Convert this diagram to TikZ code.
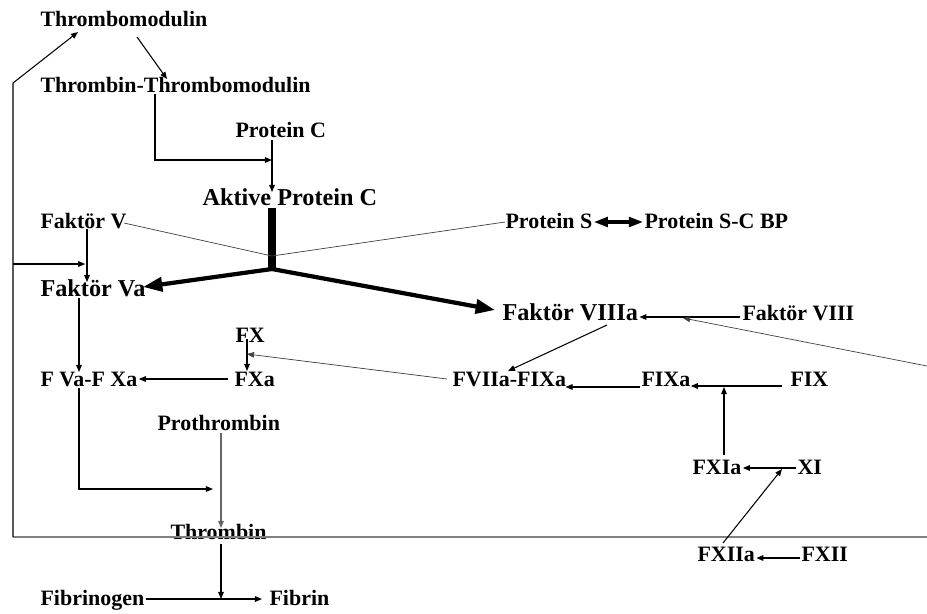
\documentclass[tikz,border=0pt]{standalone}
\usepackage{fontspec}
\setmainfont{Liberation Serif}
\usetikzlibrary{arrows.meta}

\begin{document}
\begin{tikzpicture}[x=0.02cm, y=-0.02cm, >={Triangle[length=4pt,width=3.2pt]}, line width=0.6pt,
    lbl/.style={font=\fontsize{12.5}{15}\selectfont\bfseries, inner sep=0pt, anchor=base west},
    big/.style={font=\fontsize{13.8}{16}\selectfont\bfseries},
    faint/.style={line width=0.4pt, black!75},
    heavy/.style={line width=2.4pt, -{Triangle[length=11pt,width=8pt]}}]
    \useasboundingbox (0,0) rectangle (927,613);

    \node[lbl] (TM) at (40,26) {Thrombomodulin};
    \node[lbl] (TTM) at (40,92) {Thrombin-Thrombomodulin};
    \node[lbl] (PC) at (235,137) {Protein C};
    \node[lbl, big] (APC) at (202,205) {Aktive Protein C};
    \node[lbl] (FV) at (40,228) {Faktör V};
    \node[lbl] (PS) at (505,228) {Protein S};
    \node[lbl] (PSCBP) at (644,228) {Protein S-C BP};
    \node[lbl, big] (FVa) at (40,296) {Faktör Va};
    \node[lbl, big] (FVIIIa) at (502,320) {Faktör VIIIa};
    \node[lbl] (FVIII) at (742,320) {Faktör VIII};
    \node[lbl] (FX) at (235,342) {FX};
    \node[lbl] (FXa) at (234,386) {FXa};
    \node[lbl] (FVaFXa) at (40,386) {F Va-F Xa};
    \node[lbl] (FVIIaFIXa) at (452,386) {FVIIa-FIXa};
    \node[lbl] (FIXa) at (641,386) {FIXa};
    \node[lbl] (FIX) at (790,386) {FIX};
    \node[lbl] (ProT) at (157,430) {Prothrombin};
    \node[lbl] (Thr) at (170,539) {Thrombin};
    \node[lbl] (FXIa) at (692,474) {FXIa};
    \node[lbl] (XI) at (797,474) {XI};
    \node[lbl] (FXIIa) at (697,561) {FXIIa};
    \node[lbl] (FXII) at (801,561) {FXII};
    \node[lbl] (Fbg) at (40,605) {Fibrinogen};
    \node[lbl] (Fbn) at (269,605) {Fibrin};

    \coordinate (Rb) at (927,537);
    \coordinate (Lb) at (13,537);
    \coordinate (Lt) at (13,83);
    \coordinate (Lf) at (13,264);
    \coordinate (Jv) at (87,264);
    \coordinate (PCj) at (272,160);
    \coordinate (APCj) at (272,269);
    \coordinate (APCm) at (272,256);
    \coordinate (PrJ) at (213,489);
    \coordinate (FbJ) at (221,599);
    \coordinate (FXJ) at (247,354);
    \coordinate (F9J) at (724,387);
    \coordinate (X1J) at (782,469);
    \coordinate (F8J) at (683,318);
    \coordinate (Rr) at (927,366);

    \draw[gray] (Rb) -- (Lb);
    \draw[->] (Lb) -- (Lt) -- ([shift={(38,6)}]TM.base west);
    \draw[->, shorten >=1pt] (Lf) -- (Jv);
    \draw[->] ([shift={(97,11)}]TM.base west) -- ([shift={(127,-13)}]TTM.base west);
    \draw[->] ([shift={(115,2)}]TTM.base west) |- (PCj);
    \draw[->] ([shift={(37,3)}]PC.base west) -- ([shift={(70,-13)}]APC.base west);

    \draw[line width=4.7pt] ([shift={(70,3)}]APC.base west) -- (APCj);
    \draw[heavy] (APCj) -- ([shift={(103,-9)}]FVa.base west);
    \draw[heavy] (APCj) -- ([shift={(-7,-10)}]FVIIIa.base west);
    \draw[faint] ([shift={(84,-5)}]FV.base west) -- (APCm);
    \draw[faint] ([shift={(0,-6)}]PS.base west) -- (APCm);
    \draw[{Triangle[length=8pt,width=5.5pt]}-{Triangle[length=8pt,width=5.5pt]}, line width=1.8pt]
        ([shift={(1,-6)}]PS.base east) -- ([shift={(-1,-6)}]PSCBP.base west);

    \draw[->] ([shift={(47,1)}]FV.base west) -- ([shift={(47,-14)}]FVa.base west);
    \draw[->] ([shift={(39,2)}]FVa.base west) -- ([shift={(39,-14)}]FVaFXa.base west);
    \draw[->] ([shift={(39,2)}]FVaFXa.base west) |- (PrJ);
    \draw[->, gray!80!black] ([shift={(64,3)}]ProT.base west) -- ([shift={(51,-11)}]Thr.base west);
    \draw[->] ([shift={(51,5)}]Thr.base west) -- (FbJ);
    \draw[->] ([shift={(1,-6)}]Fbg.base east) -- ([shift={(-7,-6)}]Fbn.base west);

    \draw[->] ([shift={(-6,-7)}]FXa.base west) -- ([shift={(1,-7)}]FVaFXa.base east);
    \draw[->] ([shift={(12,-3)}]FX.base west) -- ([shift={(13,-15)}]FXa.base west);
    \draw[->, faint] ([shift={(-5,-7)}]FVIIaFIXa.base west) -- (FXJ);
    \draw[->] ([shift={(105,5)}]FVIIIa.base west) -- ([shift={(56,-15)}]FVIIaFIXa.base west);
    \draw[->] ([shift={(-1,1)}]FIXa.base west) -- ([shift={(-1,1)}]FVIIaFIXa.base east);
    \draw[->] ([shift={(-8,0)}]FIX.base west) -- (FIXa.base east);
    \draw[->] ([shift={(-2,-3)}]FVIII.base west) -- ([shift={(1,-3)}]FVIIIa.base east);
    \draw[->, faint] (Rr) -- (F8J);

    \draw[->] ([shift={(32,-19)}]FXIa.base west) -- (F9J);
    \draw[->] ([shift={(-1,-6)}]XI.base west) -- ([shift={(1,-6)}]FXIa.base east);
    \draw[->] ([shift={(26,-18)}]FXIIa.base west) -- (X1J);
    \draw[->] ([shift={(-1,-3)}]FXII.base west) -- ([shift={(1,-3)}]FXIIa.base east);
\end{tikzpicture}
\end{document}
